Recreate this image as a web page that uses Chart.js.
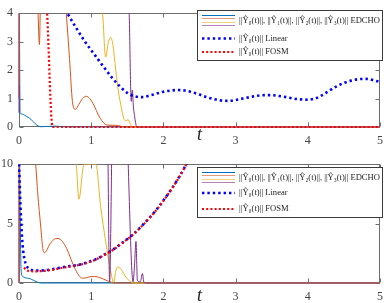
<!DOCTYPE html>
<html><head><meta charset="utf-8">
<script src="https://cdn.jsdelivr.net/npm/chart.js@4"></script>
<style>
html,body{margin:0;padding:0;background:#fff;width:390px;height:303px;overflow:hidden}
canvas{display:block}
</style></head><body>
<canvas id="c1" width="390" height="151"></canvas>
<canvas id="c2" width="390" height="152"></canvas>
<script>
// ---------- shared ----------
const xTicks = [0, 1, 2, 3, 4, 5];
const legendLabels = ['||Ŷ₀(t)||, ||Ŷ₁(t)||, ||Ŷ₂(t)||, ||Ŷ₃(t)|| EDCHO', '||Ŷ₀(t)|| Linear', '||Ŷ₀(t)|| FOSM'];
const colors = ['#0072BD', '#D95319', '#EDB120', '#7E2F8E', '#0000FF', '#FF0000'];

// ---------- top panel ----------
const topYTicks = [0, 1, 2, 3, 4];
const topT0 = [0, 0.015, 0.03, 0.06, 0.1, 0.15, 0.2, 0.25, 0.3, 0.4, 0.5, 0.6, 0.7, 5];
const topY0 = [8, 0.5, 0.46, 0.44, 0.38, 0.3, 0.18, 0.06, 0.01, 0.02, 0.03, 0.01, 0, 0];
const topT1 = [0, 0.004, 0.255, 0.283, 0.3, 0.6, 0.655, 0.7, 0.74, 0.78, 0.83, 0.88, 0.93, 0.98, 1.04, 1.1, 1.16, 1.22, 1.3, 1.38, 1.45, 5];
const topY1 = [1.0, 8, 4.6, 2.9, 4.6, 6, 4.0, 2.4, 0.9, 0.62, 0.8, 1.0, 1.08, 1.0, 0.75, 0.42, 0.18, 0.07, 0.06, 0.05, 0, 0];
const topT2 = [0, 0.004, 1.15, 1.2, 1.24, 1.27, 1.3, 1.34, 1.38, 1.41, 1.45, 1.48, 1.51, 1.54, 1.57, 5];
const topY2 = [1.5, 8, 4.2, 2.46, 3.0, 3.15, 2.9, 2.0, 1.2, 0.78, 0.3, 0.22, 0.26, 0.12, 0, 0];
const topT3 = [0, 0.004, 1.52, 1.555, 1.57, 1.585, 1.6, 1.615, 1.63, 5];
const topY3 = [0.5, 8, 4.3, 0.9, 1.3, 0.7, 0.4, 0.15, 0, 0];
const topTLin = [0.5, 0.67, 0.8, 0.9, 1.0, 1.1, 1.2, 1.3, 1.4, 1.5, 1.6, 1.7, 1.8, 1.9, 2.0, 2.1, 2.2, 2.3, 2.4, 2.5, 2.6, 2.7, 2.8, 2.9, 3.0, 3.1, 3.2, 3.3, 3.4, 3.5, 3.6, 3.7, 3.8, 3.9, 4.0, 4.1, 4.2, 4.3, 4.4, 4.5, 4.6, 4.7, 4.8, 4.9, 5.0];
const topYLin = [4.8, 4.0, 3.45, 3.05, 2.7, 2.36, 2.02, 1.7, 1.42, 1.2, 1.08, 1.05, 1.1, 1.17, 1.24, 1.28, 1.3, 1.28, 1.22, 1.14, 1.05, 0.98, 0.93, 0.92, 0.95, 1.0, 1.05, 1.1, 1.12, 1.12, 1.09, 1.05, 1.0, 0.97, 0.96, 1.0, 1.12, 1.28, 1.43, 1.55, 1.63, 1.68, 1.69, 1.65, 1.58];
const topTFosm = [0.3, 0.39, 0.465, 0.5, 5];
const topYFosm = [8.7, 4.0, 0, 0, 0];

// ---------- bottom panel ----------
const botYTicks = [0, 5, 10];
const botT0 = [0, 0.03, 0.05, 0.08, 0.12, 0.16, 0.2, 0.25, 0.3, 5];
const botY0 = [15, 1.0, 0.55, 0.45, 0.4, 0.35, 0.22, 0.08, 0, 0];
const botT1 = [0, 0.004, 0.23, 0.26, 0.3, 0.33, 0.35, 0.38, 0.42, 0.48, 0.54, 0.6, 0.66, 0.72, 0.78, 0.84, 0.88, 0.94, 1.0, 1.05, 1.12, 1.2, 1.28, 1.32, 5];
const botY1 = [0, 15, 10, 7.5, 4.8, 2.9, 2.55, 2.7, 3.2, 3.65, 3.75, 3.5, 2.9, 2.0, 1.15, 0.55, 0.4, 0.45, 0.55, 0.55, 0.45, 0.25, 0.05, 0, 0];
const botT2 = [0, 0.004, 0.79, 0.83, 0.9, 1.065, 1.13, 1.2, 1.27, 1.31, 1.34, 1.37, 1.42, 1.48, 1.55, 1.58, 5];
const botY2 = [0, 15, 10, 7.05, 10, 10, 6.5, 3.5, 1.0, 0.05, 1.0, 1.35, 1.1, 0.5, 0.1, 0, 0];
const botT3 = [0, 0.004, 1.22, 1.255, 1.30, 1.47, 1.58, 1.6, 1.62, 1.64, 1.68, 1.71, 1.73, 1.77, 5];
const botY3 = [0, 15, 15, 0.1, 15, 15, 0.1, 1.5, 3.5, 0.2, 0.1, 0.8, 0.05, 0, 0];
const botTLin = [0, 0.02, 0.04, 0.06, 0.08, 0.1, 0.13, 0.17, 0.22, 0.3, 0.4, 0.5, 0.6, 0.7, 0.8, 0.9, 1.0, 1.1, 1.2, 1.3, 1.4, 1.5, 1.6, 1.7, 1.8, 1.9, 2.0, 2.1, 2.2, 2.3, 2.35];
const botYLin = [10, 6.5, 4.0, 2.6, 1.9, 1.5, 1.25, 1.1, 1.05, 1.05, 1.1, 1.2, 1.32, 1.42, 1.5, 1.65, 1.85, 2.1, 2.45, 2.8, 3.25, 3.7, 4.2, 4.8, 5.45, 6.15, 6.95, 7.8, 8.75, 9.8, 10.4];
const botTFosm = [0.07, 0.1, 0.15, 0.22, 0.3, 0.4, 0.5, 0.6, 0.7, 0.8, 0.9, 1.0, 1.1, 1.2, 1.3, 1.4, 1.5, 1.6, 1.7, 1.8, 1.9, 2.0, 2.1, 2.2, 2.3, 2.35];
const botYFosm = [1.3, 1.1, 1.0, 0.98, 1.0, 1.06, 1.15, 1.27, 1.38, 1.48, 1.62, 1.82, 2.08, 2.42, 2.78, 3.22, 3.68, 4.18, 4.78, 5.42, 6.12, 6.92, 7.78, 8.72, 9.78, 10.4];

// ---------- helpers ----------
const pts = (t, y) => t.map((v, i) => ({x: v, y: y[i]}));
const FONT = "'Liberation Serif', 'DejaVu Serif', serif";

function makeDatasets(series) {
  return series.map((s, i) => {
    const dotted = i >= 4;
    return {
      data: pts(s[0], s[1]),
      borderColor: colors[i],
      borderWidth: dotted ? (i === 4 ? 2.6 : 2.2) : 1,
      borderDash: dotted ? (i === 4 ? [2.4, 3] : [2, 2.2]) : [],
      pointRadius: 0,
      fill: false,
      cubicInterpolationMode: 'monotone',
      order: 6 - i,
      clip: {left: 1, top: 0, right: 1, bottom: 2}
    };
  });
}

const framePlugin = {
  id: 'frame',
  beforeDatasetsDraw(chart) {
    const {ctx, chartArea: a, scales} = chart;
    ctx.save();
    ctx.strokeStyle = '#6e6e6e';
    ctx.lineWidth = 1;
    const L = Math.round(a.left) + 0.5, R = Math.round(a.right) - 0.5;
    const T = Math.round(a.top) + 0.5, B = Math.round(a.bottom) - 0.5;
    ctx.strokeRect(L, T, R - L, B - T);
    ctx.beginPath();
    const tl = 4;
    scales.x.ticks.forEach(tk => {
      const px = Math.round(scales.x.getPixelForValue(tk.value)) + 0.5;
      ctx.moveTo(px, B); ctx.lineTo(px, B - tl);
      ctx.moveTo(px, T); ctx.lineTo(px, T + tl);
    });
    scales.y.ticks.forEach(tk => {
      const py = Math.round(scales.y.getPixelForValue(tk.value)) + 0.5;
      ctx.moveTo(L, py); ctx.lineTo(L + tl, py);
      ctx.moveTo(R, py); ctx.lineTo(R - tl, py);
    });
    ctx.stroke();
    ctx.restore();
  }
};

const legendPlugin = {
  id: 'boxLegend',
  afterDraw(chart, args, o) {
    const ctx = chart.ctx;
    ctx.save();
    ctx.fillStyle = '#fff';
    ctx.fillRect(o.x, o.y, o.w, o.h);
    ctx.strokeStyle = '#3a3a3a';
    ctx.lineWidth = 1;
    ctx.strokeRect(o.x + 0.5, o.y + 0.5, o.w, o.h);
    const x0 = o.x + 5, x1 = o.x + 38, tx = o.x + 42;
    [-6, -2.5, 1, 4.5].forEach((dy, i) => {
      ctx.beginPath();
      ctx.strokeStyle = colors[i];
      ctx.globalAlpha = i === 0 ? 1 : 0.6;
      ctx.lineWidth = 1;
      ctx.moveTo(x0, Math.round(o.rows[0] + dy) + 0.5);
      ctx.lineTo(x1, Math.round(o.rows[0] + dy) + 0.5);
      ctx.stroke();
    });
    ctx.globalAlpha = 1;
    [[4, o.rows[1], 2.6, [2.4, 3]], [5, o.rows[2], 2.2, [2, 2.2]]].forEach(([ci, y, w, d]) => {
      ctx.beginPath();
      ctx.strokeStyle = colors[ci];
      ctx.lineWidth = w;
      ctx.setLineDash(d);
      ctx.moveTo(x0, y); ctx.lineTo(x1, y);
      ctx.stroke();
    });
    ctx.setLineDash([]);
    ctx.font = '10px ' + FONT;
    const w10 = ctx.measureText(legendLabels[0]).width;
    const fs = 10 * o.textW / w10;
    ctx.font = fs.toFixed(2) + 'px ' + FONT;
    ctx.fillStyle = '#222';
    ctx.textBaseline = 'middle';
    ctx.textAlign = 'left';
    legendLabels.forEach((lab, i) => ctx.fillText(lab, tx, o.rows[i]));
    ctx.restore();
  }
};

function makeChart(id, series, yMax, yTicks, padTop, xAxisH, titlePadBottom, legendOpts) {
  return new Chart(document.getElementById(id), {
    type: 'line',
    data: {datasets: makeDatasets(series)},
    options: {
      responsive: false,
      animation: false,
      devicePixelRatio: 1,
      layout: {padding: {top: padTop, right: 5, left: 0, bottom: 0}},
      plugins: {legend: {display: false}, tooltip: {enabled: false}, boxLegend: legendOpts},
      scales: {
        x: {
          type: 'linear', min: 0, max: 5,
          afterBuildTicks: s => { s.ticks = xTicks.map(v => ({value: v})); },
          afterFit: s => { s.height = xAxisH; },
          grid: {display: false, drawTicks: false},
          border: {display: false},
          ticks: {color: '#444', padding: 7, font: {family: FONT, size: 12}, maxRotation: 0},
          title: {display: true, text: 't', color: '#222', font: {family: FONT, size: 18, style: 'italic'}, padding: {top: 0, bottom: titlePadBottom}}
        },
        y: {
          type: 'linear', min: 0, max: yMax,
          afterBuildTicks: s => { s.ticks = yTicks.map(v => ({value: v})); },
          afterFit: s => { s.width = 19; },
          grid: {display: false, drawTicks: false},
          border: {display: false},
          ticks: {color: '#444', padding: 6, font: {family: FONT, size: 12}}
        }
      }
    },
    plugins: [framePlugin, legendPlugin]
  });
}

makeChart('c1',
  [[topT0, topY0], [topT1, topY1], [topT2, topY2], [topT3, topY3], [topTLin, topYLin], [topTFosm, topYFosm]],
  4, topYTicks, 5, 24, 5,
  {x: 197, y: 10, w: 185, h: 50, rows: [20.5, 38.5, 52], textW: 141});

makeChart('c2',
  [[botT0, botY0], [botT1, botY1], [botT2, botY2], [botT3, botY3], [botTLin, botYLin], [botTFosm, botYFosm]],
  10, botYTicks, 10, 20, -4,
  {x: 197, y: 16, w: 185, h: 50, rows: [26.5, 42, 58], textW: 141});
</script>
</body></html>
